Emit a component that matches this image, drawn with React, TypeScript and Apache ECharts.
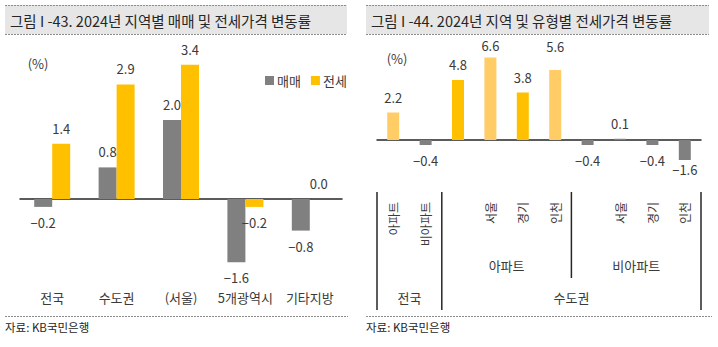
import React, { useEffect, useRef } from "react";
import * as echarts from "echarts";

// ---- Data ----
const leftCategories = ["전국", "수도권", "(서울)", "5개광역시", "기타지방"];
const saleValues = [-0.2, 0.8, 2.0, -1.6, -0.8];
const jeonseValues = [1.4, 2.9, 3.4, -0.2, 0.0];
const leftSeriesNames = ["매매", "전세"];

const rightCategories = ["아파트", "비아파트", "", "서울", "경기", "인천", "", "서울", "경기", "인천"];
const rightValues = [2.2, -0.4, 4.8, 6.6, 3.8, 5.6, -0.4, 0.1, -0.4, -1.6];

const leftTitle = "그림 I -43. 2024년 지역별 매매 및 전세가격 변동률";
const rightTitle = "그림 I -44. 2024년 지역 및 유형별 전세가격 변동률";
const sourceText = "자료: KB국민은행";
const unitText = "(%)";

const FONT = "'Noto Sans CJK KR', 'Noto Sans', sans-serif";
const GRAY = "#808080";
const YELLOW = "#ffc000";
const LIGHT = "#ffcc66";
const TEXT = "#3a3a3a";

const fmt = (v: number) => (v < 0 ? "\u2212" : "") + Math.abs(v).toFixed(1);

export default function App() {
  const ref = useRef<HTMLDivElement>(null);
  useEffect(() => {
    document.body.style.margin = "0";
    if (!ref.current) return;
    const chart = echarts.init(ref.current, undefined, { renderer: "svg" });

    const rightColors = [LIGHT, GRAY, YELLOW, LIGHT, YELLOW, LIGHT, GRAY, GRAY, GRAY, GRAY];
    const rightDist: Record<number, number> = { 3: 6, 5: 17, 9: 3 };

    const barLabel = (v: number, dist = 9) => ({
      show: true,
      position: v < 0 ? "bottom" : "top",
      distance: dist,
      formatter: () => fmt(v),
      fontSize: 13,
      color: TEXT,
      fontFamily: FONT,
    });

    const GL = { left: 20, top: 41, width: 322, height: 237 };
    const GR = { left: 377, top: 40, width: 324, height: 150 };
    const cw = GR.width / rightCategories.length;

    const divX = [0, 2, 6, 10].map((k) => GR.left + k * cw);

    const titleBar = (x: number, w: number, text: string) => [
      { type: "rect", shape: { x, y: 5, width: w, height: 29 }, style: { fill: "#e7e6e6" }, silent: true },
      { type: "line", shape: { x1: x, y1: 5.5, x2: x + w, y2: 5.5 }, style: { stroke: "#8c8c8c", lineWidth: 1, lineDash: [2, 1] } },
      { type: "line", shape: { x1: x, y1: 34.5, x2: x + w, y2: 34.5 }, style: { stroke: "#8c8c8c", lineWidth: 1, lineDash: [2, 1] } },
      { type: "text", x: x + 5, y: 20, style: { text, fontSize: 14.5, fontFamily: FONT, fill: "#262626", verticalAlign: "middle" } },
    ];
    const footer = (x: number, w: number) => [
      { type: "line", shape: { x1: x, y1: 316.5, x2: x + w, y2: 316.5 }, style: { stroke: "#8c8c8c", lineWidth: 1, lineDash: [2, 1] } },
      { type: "text", x: x, y: 327, style: { text: sourceText, fontSize: 11.5, fontFamily: FONT, fill: "#262626", verticalAlign: "middle" } },
    ];
    const textAt = (x: number, y: number, text: string, size = 14, align = "center") => ({
      type: "text",
      x,
      y,
      style: { text, fontSize: size, fontFamily: FONT, fill: TEXT, align, verticalAlign: "middle" },
    });
    const vline = (x: number, y2: number) => ({
      type: "line",
      shape: { x1: x, y1: 192, x2: x, y2 },
      style: { stroke: "#262626", lineWidth: 1.5 },
    });

    const option: any = {
      animation: false,
      textStyle: { fontFamily: FONT },
      grid: [
        { ...GL, containLabel: false },
        { ...GR, containLabel: false },
      ],
      legend: {
        data: leftSeriesNames,
        left: 260,
        top: 69,
        icon: "rect",
        itemWidth: 9,
        itemHeight: 9,
        itemGap: 10,
        textStyle: { fontSize: 13, color: TEXT, fontFamily: FONT, padding: [0, 0, 0, -2] },
      },
      xAxis: [
        {
          type: "category",
          gridIndex: 0,
          data: leftCategories,
          axisLine: { onZero: true, lineStyle: { color: "#262626", width: 1.5 } },
          axisTick: { show: false },
          axisLabel: { show: false },
        },
        {
          type: "category",
          gridIndex: 0,
          data: leftCategories,
          position: "bottom",
          axisLine: { show: false, onZero: false },
          axisTick: { show: false },
          axisLabel: { margin: 13, fontSize: 13, color: TEXT, fontFamily: FONT, interval: 0 },
        },
        {
          type: "category",
          gridIndex: 1,
          data: rightCategories,
          axisLine: { onZero: true, lineStyle: { color: "#262626", width: 1.5 } },
          axisTick: { show: false },
          axisLabel: { show: false },
        },
        {
          type: "category",
          gridIndex: 1,
          data: rightCategories,
          position: "bottom",
          axisLine: { show: false, onZero: false },
          axisTick: { show: false },
          axisLabel: { rotate: 90, margin: 12, fontSize: 12, color: TEXT, fontFamily: FONT, interval: 0 },
        },
      ],
      yAxis: [
        { type: "value", gridIndex: 0, min: -2, max: 4, show: false },
        { type: "value", gridIndex: 1, min: -4, max: 8, show: false },
      ],
      series: [
        {
          name: leftSeriesNames[0],
          type: "bar",
          xAxisIndex: 0,
          yAxisIndex: 0,
          barWidth: 18,
          barGap: "0%",
          itemStyle: { color: GRAY },
          data: saleValues.map((v) => ({ value: v, label: barLabel(v) })),
        },
        {
          name: leftSeriesNames[1],
          type: "bar",
          xAxisIndex: 0,
          yAxisIndex: 0,
          barWidth: 18,
          barGap: "0%",
          itemStyle: { color: YELLOW },
          data: jeonseValues.map((v) => ({ value: v, label: barLabel(v) })),
        },
        {
          name: "right",
          type: "bar",
          xAxisIndex: 2,
          yAxisIndex: 1,
          barWidth: 12,
          data: rightValues.map((v, i) => ({
            value: v,
            itemStyle: { color: rightColors[i] },
            label: barLabel(v, rightDist[i] ?? 9),
          })),
        },
      ],
      graphic: [
        ...titleBar(5, 342, leftTitle),
        ...titleBar(366, 343, rightTitle),
        ...footer(5, 343),
        ...footer(366, 346),
        textAt(38, 63, unitText, 13),
        textAt(397, 58, unitText, 13),
        vline(divX[0], 310),
        vline(divX[1], 310),
        vline(divX[2], 278),
        vline(divX[3], 310),
        textAt((divX[1] + divX[2]) / 2, 265, "아파트", 13),
        textAt((divX[2] + divX[3]) / 2, 265, "비아파트", 13),
        textAt((divX[0] + divX[1]) / 2, 297, "전국", 13),
        textAt((divX[1] + divX[3]) / 2, 297, "수도권", 13),
      ],
    };
    chart.setOption(option);
    return () => chart.dispose();
  }, []);
  return <div ref={ref} style={{ width: 718, height: 347 }} />;
}
